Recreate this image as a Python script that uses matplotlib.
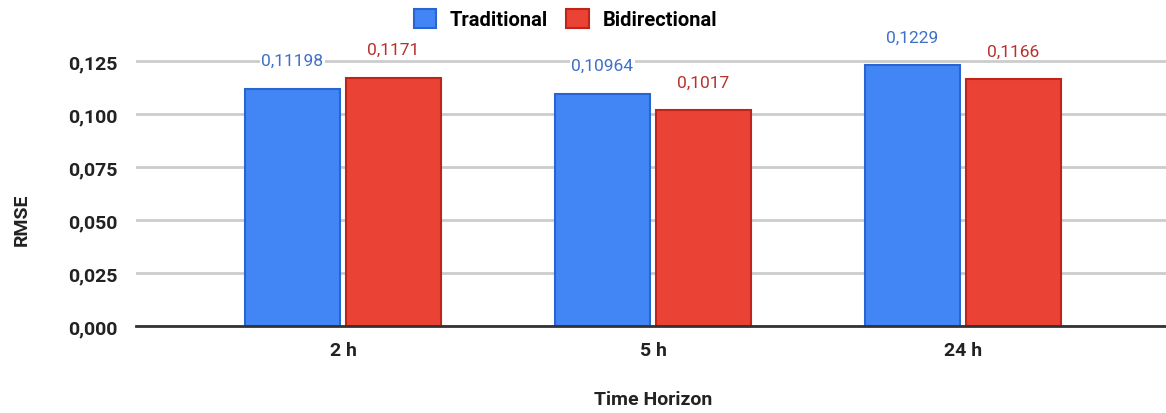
import matplotlib
matplotlib.use("Agg")
import matplotlib.pyplot as plt
import numpy as np
from matplotlib.patches import Patch

categories = ["2 h", "5 h", "24 h"]
traditional = [0.11198, 0.10964, 0.1229]
bidirectional = [0.1171, 0.1017, 0.1166]
trad_labels = ["0,11198", "0,10964", "0,1229"]
bidi_labels = ["0,1171", "0,1017", "0,1166"]
yticks = [0.0, 0.025, 0.05, 0.075, 0.1, 0.125]
ytick_labels = ["0,000", "0,025", "0,050", "0,075", "0,100", "0,125"]

plt.rcParams['font.family'] = ['Roboto', 'DejaVu Sans']

blue, blue_edge, blue_txt = "#4285F4", "#2a64d0", "#3f6fc8"
red, red_edge, red_txt = "#EA4335", "#c0231a", "#b8322c"

fig = plt.figure(figsize=(11.66, 4.14), dpi=100)
ax = fig.add_axes([0.1166, 0.2101, 0.8834, 0.6913])

x = np.arange(len(categories))
w = 0.306
off = 0.163
ax.bar(x - off, traditional, w, color=blue, edgecolor=blue_edge, linewidth=1.5, zorder=3)
ax.bar(x + off, bidirectional, w, color=red, edgecolor=red_edge, linewidth=1.5, zorder=3)

for xi, v, lab in zip(x, traditional, trad_labels):
    ax.annotate(lab, (xi - off, v), xytext=(0, 28), textcoords="offset pixels",
                ha="center", va="center", color=blue_txt, zorder=4, fontsize=12.5,
                bbox=dict(facecolor="white", edgecolor="none", pad=1))
for xi, v, lab in zip(x, bidirectional, bidi_labels):
    ax.annotate(lab, (xi + off, v), xytext=(0, 28), textcoords="offset pixels",
                ha="center", va="center", color=red_txt, zorder=4, fontsize=12.5,
                bbox=dict(facecolor="white", edgecolor="none", pad=1))

fs = 14
ax.set_xlim(-0.668, 2.655)
ax.set_ylim(0, 0.135)
ax.set_yticks(yticks)
ax.set_yticklabels(ytick_labels, fontsize=fs, fontweight="bold", color="#222222")
ax.set_xticks(x)
ax.set_xticklabels(categories, fontsize=fs, fontweight="bold", color="#222222")
ax.tick_params(axis="both", length=0)
ax.tick_params(axis="y", pad=13)
ax.tick_params(axis="x", pad=11)
ax.grid(axis="y", color="#cccccc", linewidth=2, zorder=0)
for s in ["top", "right", "left"]:
    ax.spines[s].set_visible(False)
ax.spines["bottom"].set_color("#333333")
ax.spines["bottom"].set_linewidth(2)
ax.spines["bottom"].set_zorder(5)

fig.text(0.560, 0.035, "Time Horizon", ha="center", va="center", fontsize=fs,
         fontweight="bold", color="#222222")
fig.text(0.019, 0.47, "RMSE", ha="center", va="center", rotation=90, fontsize=fs,
         fontweight="bold", color="#222222")

handles = [Patch(facecolor=blue, edgecolor=blue_edge, linewidth=1.5, label="Traditional"),
           Patch(facecolor=red, edgecolor=red_edge, linewidth=1.5, label="Bidirectional")]
fig.legend(handles=handles, loc="center", bbox_to_anchor=(0.485, 0.952), ncol=2,
           frameon=False, prop=dict(size=14.5, weight="bold"), handlelength=1.1, handleheight=1.1,
           columnspacing=0.9, handletextpad=0.7)

fig.savefig("out.png", dpi=100)
